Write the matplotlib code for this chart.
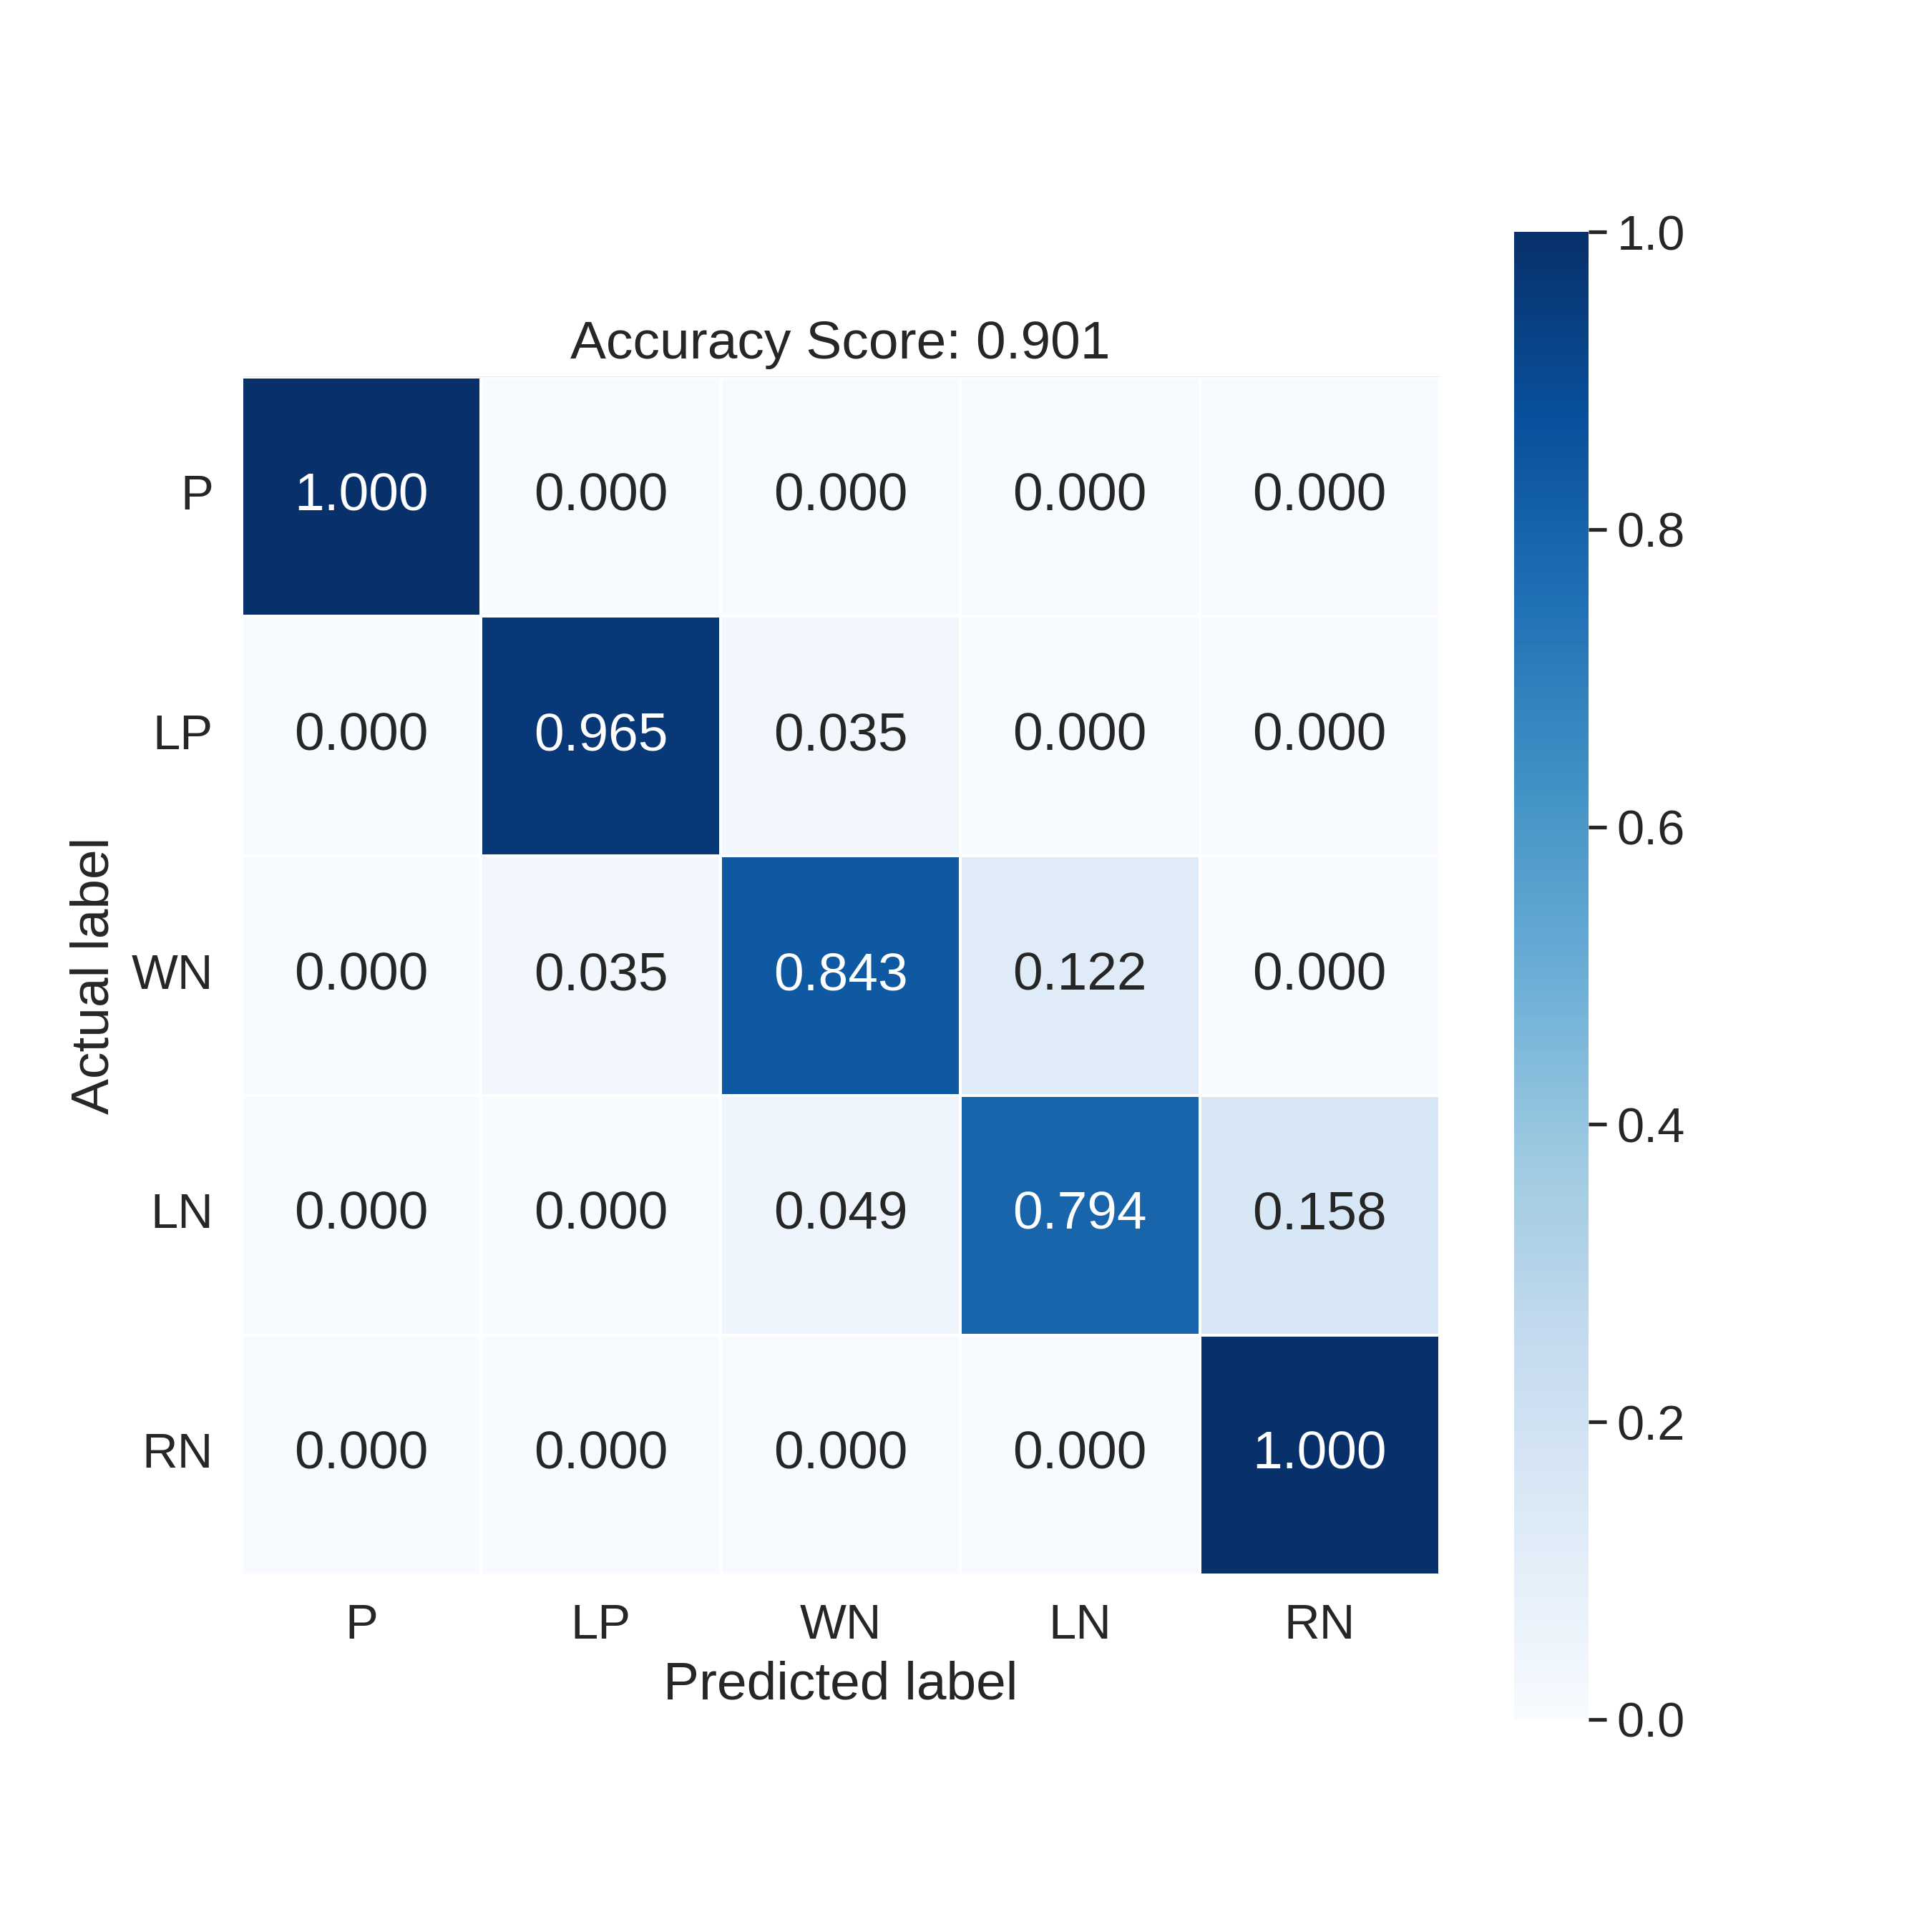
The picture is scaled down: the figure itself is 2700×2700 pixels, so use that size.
import matplotlib

matplotlib.use("Agg")
import matplotlib.pyplot as plt
import numpy as np
import seaborn as sns

class_labels = ["P", "LP", "WN", "LN", "RN"]

# normalized confusion matrix, rows = actual, cols = predicted
row_p = [1.000, 0.000, 0.000, 0.000, 0.000]
row_lp = [0.000, 0.965, 0.035, 0.000, 0.000]
row_wn = [0.000, 0.035, 0.843, 0.122, 0.000]
row_ln = [0.000, 0.000, 0.049, 0.794, 0.158]
row_rn = [0.000, 0.000, 0.000, 0.000, 1.000]

accuracy = 0.901

cm = np.array([row_p, row_lp, row_wn, row_ln, row_rn])

sns.set(font_scale=1.5)
plt.rcParams["font.family"] = ["Liberation Sans", "DejaVu Sans"]

fig = plt.figure(figsize=(9, 9), dpi=300)
ax = sns.heatmap(
    cm,
    annot=True,
    fmt=".3f",
    linewidths=0.5,
    square=True,
    cmap="Blues",
    xticklabels=class_labels,
    yticklabels=class_labels,
)
ax.set_ylabel("Actual label")
ax.set_xlabel("Predicted label")
ax.set_title(f"Accuracy Score: {accuracy}")
plt.yticks(rotation=0)

fig.savefig("out.png", dpi=300)
